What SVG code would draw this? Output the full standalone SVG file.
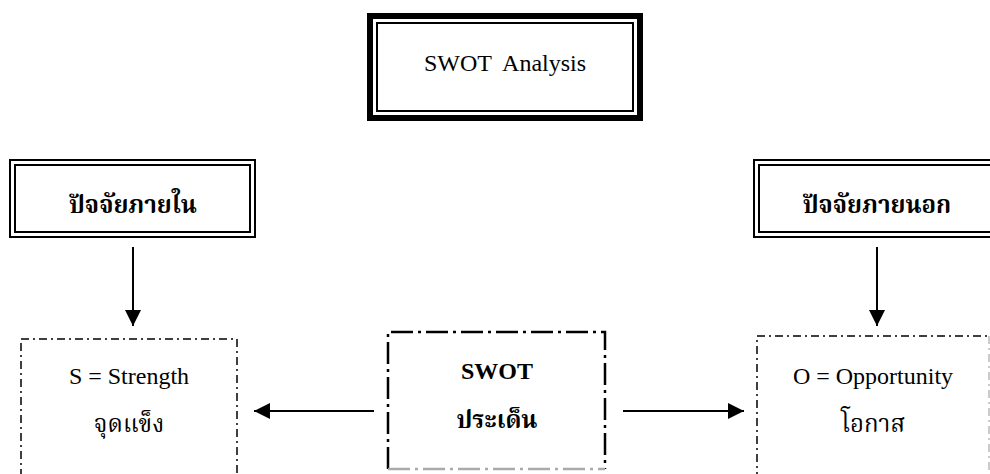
<svg xmlns="http://www.w3.org/2000/svg" width="990" height="474" viewBox="0 0 990 474">
<style>
.en{font-family:'Liberation Serif','DejaVu Serif',serif;font-size:24px;fill:#000;text-anchor:middle}
.th{font-family:'Noto Serif Thai','Noto Sans Thai','Liberation Serif','Noto Sans',serif;font-size:24px;fill:#000;text-anchor:middle}
.b{font-weight:bold}
.dbl{fill:none;stroke:#000;stroke-width:2}
.dd{fill:none;stroke:#000;stroke-width:1.5;stroke-dasharray:8 4 2 4}
.ddc{fill:none;stroke:#000;stroke-width:2.5;stroke-dasharray:22 5 3 5}
.ar{stroke:#000;stroke-width:2;fill:none}
</style>
<defs>
<marker id="ah" viewBox="0 0 10 10" refX="10" refY="5" markerWidth="8" markerHeight="8" markerUnits="strokeWidth" orient="auto">
<path d="M0,0 L10,5 L0,10 Z" fill="#000"/>
</marker>
</defs>
<rect width="990" height="474" fill="#fff"/>
<g id="swot-analysis">
<rect x="370" y="16" width="270" height="102" fill="#fff" stroke="#000" stroke-width="6"/>
<rect x="377" y="23" width="256" height="88" fill="none" stroke="#000" stroke-width="2"/>
<text class="en" x="505" y="71" xml:space="preserve">SWOT  Analysis</text>
</g>
<g id="internal">
<rect class="dbl" x="10" y="160" width="245" height="77"/>
<rect class="dbl" x="15" y="165" width="235" height="67"/>
<text class="th b" x="133" y="213">ปัจจัยภายใน</text>
</g>
<g id="external">
<rect class="dbl" x="754" y="160" width="245" height="77"/>
<rect class="dbl" x="759" y="165" width="235" height="67"/>
<text class="th b" x="877" y="213">ปัจจัยภายนอก</text>
</g>
<g id="strength">
<rect class="dd" x="21" y="339" width="216" height="150"/>
<text class="en" x="129" y="384">S = Strength</text>
<text class="th" x="129" y="432">จุดแข็ง</text>
</g>
<g id="swot-issue">
<path class="ddc" d="M388,469 V332 H605 V469"/>
<line class="ddc" x1="388" y1="469" x2="605" y2="469" stroke="#aaa" style="stroke:#aaa"/>
<text class="en b" x="497" y="379">SWOT</text>
<text class="th b" x="497" y="428">ประเด็น</text>
</g>
<g id="opportunity">
<path class="dd" d="M757,480 V336 H989"/>
<line class="dd" x1="989" y1="336" x2="989" y2="480" style="stroke:#bbb"/>
<text class="en" x="873" y="384">O = Opportunity</text>
<text class="th" x="873" y="432">โอกาส</text>
</g>
<g id="connectors">
<line class="ar" x1="133" y1="247" x2="133" y2="326" marker-end="url(#ah)"/>
<line class="ar" x1="877" y1="247" x2="877" y2="326" marker-end="url(#ah)"/>
<line class="ar" x1="374" y1="411" x2="254" y2="411" marker-end="url(#ah)"/>
<line class="ar" x1="623" y1="411" x2="744" y2="411" marker-end="url(#ah)"/>
</g>
</svg>
